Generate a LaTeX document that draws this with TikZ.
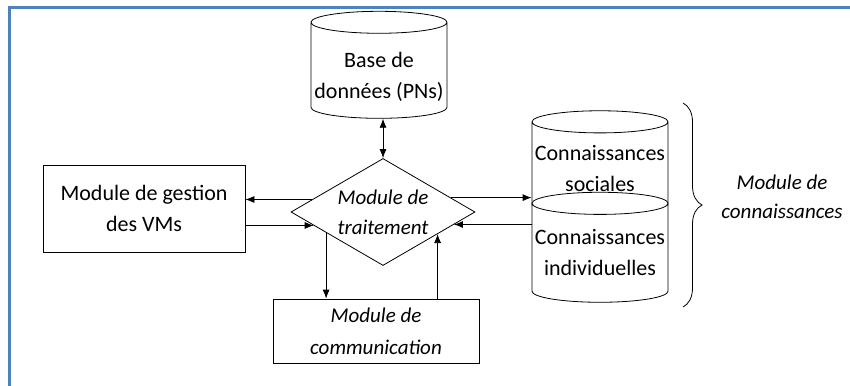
\documentclass[tikz,border=0pt]{standalone}
\usepackage{fontspec}
\setmainfont{Carlito}
\usetikzlibrary{arrows.meta,calc,positioning,shapes.geometric,decorations.pathreplacing}
\definecolor{frameBlue}{HTML}{4F81BD}

\tikzset{
  boxtxt/.style={align=center,font=\fontsize{22}{31}\selectfont},
  modbox/.style={boxtxt,draw,thick,fill=white,inner sep=0pt},
  dbcyl/.style={boxtxt,draw,thick,fill=white,cylinder,shape border rotate=90,
    aspect=0.17,minimum width=136pt,inner sep=0pt},
  decision/.style={boxtxt,draw,thick,fill=white,diamond,aspect=1.72,inner sep=0pt,
    minimum width=184pt,minimum height=107pt,font=\fontsize{21}{30}\selectfont\itshape},
  flow/.style={-{Latex[length=9pt,width=7pt]},thick},
}
% abaisse le texte sous le couvercle du cylindre
\newcommand{\capstrut}[1]{\rule{0pt}{#1}}

\begin{document}
\begin{tikzpicture}[x=1pt,y=-1pt]
  \useasboundingbox (0,0) rectangle (850,385);
  \draw[frameBlue,line width=3pt] (9.5,400) -- (9.5,7.5) -- (860,7.5);

  \node[dbcyl,minimum height=107pt] (base) at (379,70.5) {\capstrut{29pt}Base de\\données (PNs)};
  \node[decision] (trait) at (383,212) {Module de\\traitement};
  \node[modbox,minimum width=202pt,minimum height=87pt] (gestion) at (144,208.5)
    {Module de gestion\\des VMs};
  \node[modbox,minimum width=206pt,minimum height=64pt,font=\fontsize{21}{32}\selectfont\itshape] (comm)
    at (376,331) {Module de\\communication};
  \node[dbcyl,minimum height=105pt] (social) at (600,169) {Connaissances\\sociales};
  \node[dbcyl,minimum height=110pt] (indiv) at (600,253) {Connaissances\\individuelles};
  \node[boxtxt,font=\fontsize{21}{29}\selectfont\itshape] (connlbl) at (782,197)
    {Module de\\connaissances};

  % liens du module de traitement
  \draw[flow,{Latex[length=9pt,width=7pt]}-{Latex[length=9pt,width=7pt]}]
    (base.south -| trait.north) -- (trait.north);
  \draw[flow] (trait.170) -- (trait.170 -| gestion.east);
  \draw[flow] (trait.191 -| gestion.east) -- (trait.191);
  \draw[flow] (trait.12) -- (trait.12 -| social.west);
  \draw[flow] (trait.350 -| indiv.west) -- (trait.350);
  \draw[flow] (trait.200) -- (trait.200 |- comm.north);
  \draw[flow] (trait.338 |- comm.north) -- (trait.338);

  \draw[thick,decorate,decoration={brace,amplitude=19pt}]
    ($(social.center)+(83,-66)$) -- ($(indiv.center)+(83,54)$);
\end{tikzpicture}
\end{document}
